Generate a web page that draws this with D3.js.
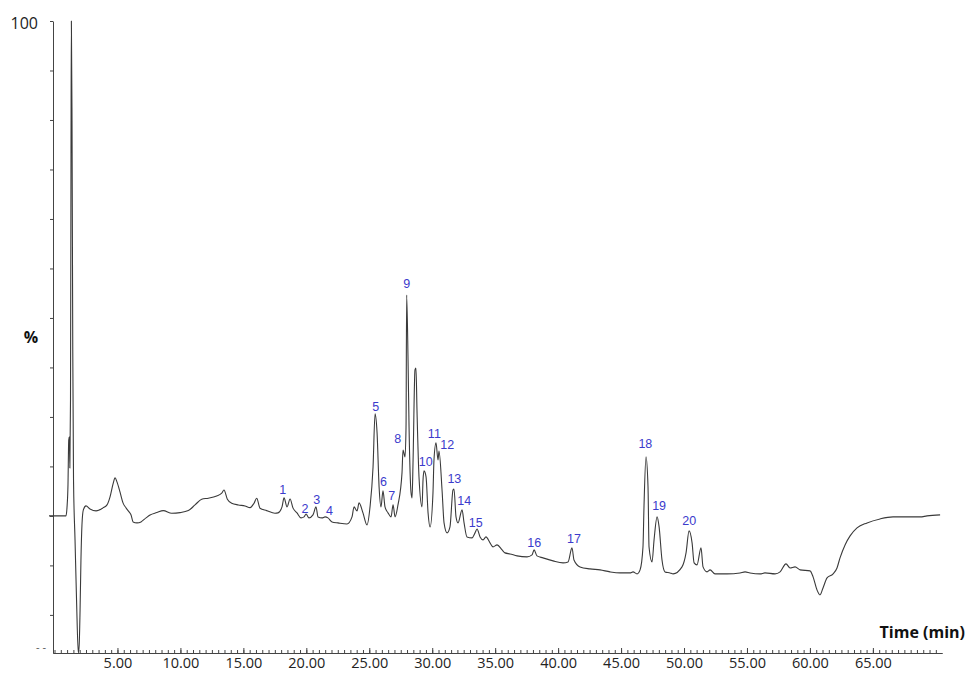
<!DOCTYPE html>
<html>
<head>
<meta charset="utf-8">
<script src="https://cdn.jsdelivr.net/npm/d3@7"></script>
<style>
body{margin:0;background:#fff;}
.trace{fill:none;stroke:#3a3a3a;stroke-width:1.1;stroke-linejoin:round;}
.axis path,.axis line{stroke:#444;}
.peak{font-family:"Liberation Sans",Arial,sans-serif;font-size:12.5px;fill:#3b3bcc;}
</style>
</head>
<body>
<svg id="chrom" width="966" height="673"></svg>
<script>
// retention time (min) and relative intensity (%)
const timeMin = [
-0.44,0.91,0.99,1.07,1.13,1.18,1.22,1.27,1.31,1.34,1.39,1.45,1.51,1.63,1.75,1.89,1.96,2.03,2.10,2.18,
2.29,2.50,2.82,3.30,3.85,4.17,4.41,4.65,4.81,4.96,5.20,5.44,5.68,5.92,6.08,6.24,6.55,6.87,7.27,7.59,
8.12,8.64,9.31,9.97,10.63,11.16,11.69,12.22,12.88,13.28,13.46,13.73,14.07,14.60,15.13,15.53,15.85,16.06,16.32,16.85,17.51,
17.75,18.07,18.23,18.47,18.71,18.94,19.26,19.58,19.82,19.98,20.21,20.53,20.77,20.93,21.25,21.49,21.72,22.04,22.52,23.23,
23.63,23.79,24.03,24.19,24.50,24.82,25.06,25.30,25.46,25.62,25.78,25.93,26.09,26.25,26.49,26.73,26.89,27.05,27.28,27.60,
27.68,27.84,27.92,27.97,28.08,28.16,28.32,28.40,28.48,28.63,28.71,28.79,28.95,29.19,29.27,29.35,29.51,29.67,29.83,30.06,
30.14,30.30,30.46,30.54,30.78,30.94,31.18,31.41,31.65,31.73,31.89,32.05,32.37,32.53,32.76,33.16,33.40,33.56,33.80,34.04,
34.27,34.59,34.83,35.15,35.55,
35.78,36.18,36.74,37.53,37.93,38.09,38.32,38.80,39.60,40.39,40.79,41.10,41.26,41.74,42.53,43.33,44.12,44.92,45.71,45.95,
46.27,46.51,46.74,46.82,46.98,47.14,47.22,47.46,47.62,47.86,48.02,48.25,48.49,48.89,49.13,49.84,50.16,50.40,50.64,50.80,
51.03,51.35,51.51,51.83,52.07,52.46,53.42,54.45,
54.85,55.24,56.04,56.43,57.23,57.63,58.10,58.42,58.82,59.22,60.01,60.25,60.56,60.80,61.04,61.36,61.84,62.15,62.39,62.79,
63.19,63.74,64.54,65.57,66.60,68.19,68.75,69.30,70.34];

const intensityPct = [
0,0,1.62,6.26,15.35,15.96,9.70,23.43,73.94,100,80.0,33.5,7.27,-4.85,-16.97,-27.68,-26.06,-18.99,-8.89,-1.82,
1.21,2.02,1.41,1.01,1.62,2.22,3.84,6.46,7.68,6.87,4.85,2.63,1.62,0.81,0.2,-1.21,-1.41,-1.21,-0.40,0.2,
0.67,1.07,0.55,0.67,1.07,2.22,3.37,3.58,4.04,4.59,5.25,3.37,2.57,2.22,2.02,1.68,2.57,3.58,1.56,1.07,0.55,
0.61,1.82,3.64,1.82,3.43,1.62,0.61,-0.40,-0.20,0.40,-0.40,0.20,1.82,-0.20,-0.40,-0.20,-0.40,-1.21,-1.41,-1.62,
-0.20,1.82,1.01,2.63,0.61,-1.82,1.82,9.90,20.61,16.77,5.86,1.82,5.05,1.82,0.61,-0.20,2.22,-0.20,2.22,8.69,
13.33,11.92,17.98,44.65,31.52,17.98,4.65,3.64,11.31,29.49,29.90,21.41,7.88,1.82,7.27,9.09,7.88,0.61,-2.22,4.65,
11.31,14.75,11.31,13.13,5.25,-1.41,-3.43,-2.22,5.25,5.45,-0.20,-1.41,1.21,-1.41,-4.24,-4.44,-3.43,-2.63,-4.24,-4.85,
-4.24,-5.45,-6.26,-5.86,-6.87,
-7.47,-7.68,-8.08,-8.28,-7.88,-6.87,-8.08,-8.48,-9.09,-9.49,-9.29,-6.46,-8.89,-10.30,-10.71,-10.91,-11.31,-11.52,-11.52,-11.31,
-11.72,-10.91,-6.26,1.82,11.92,5.86,-6.26,-9.29,-4.85,-0.20,-2.22,-8.89,-11.31,-11.52,-11.72,-10.30,-7.47,-3.03,-5.45,-9.49,
-9.90,-6.46,-10.30,-11.31,-10.91,-11.72,-11.72,-11.52,
-11.31,-11.52,-11.72,-11.52,-11.72,-11.31,-9.70,-10.51,-10.30,-10.91,-11.11,-12.32,-14.95,-15.96,-14.55,-12.53,-11.72,-10.51,-8.48,-5.86,
-4.04,-2.42,-1.41,-0.61,-0.20,-0.20,-0.20,0,0.20];

// numbered peaks: label anchor (time, %)
const peakNames = ["1","2","3","4","5","6","7","8","9","10","11","12","13","14","15","16","17","18","19","20"];
const peakLabelTime = [18.13,19.90,20.83,21.83,25.51,26.12,26.78,27.26,27.97,29.48,30.17,31.20,31.76,32.55,33.46,38.11,41.26,46.93,48.02,50.42];
const peakLabelPct = [5.39,1.56,3.37,1.07,22.08,6.93,4.04,15.70,47.01,10.97,16.57,14.48,7.47,3.03,-1.27,-5.31,-4.51,14.69,2.02,-0.95];

const xTicks = [5,10,15,20,25,30,35,40,45,50,55,60,65];
const yTicks = [-20,-10,0,10,20,30,40,50,60,70,80,90,100];

const svg = d3.select("#chrom"),
margin = {top:21,right:24,bottom:20,left:53},
width = +svg.attr("width") - margin.left - margin.right,
height = +svg.attr("height") - margin.top - margin.bottom;

const g = svg.append("g")
.attr("transform",`translate(${margin.left},${margin.top})`);

const x = d3.scaleLinear().domain([-0.12,70.49]).range([0,width]);
const y = d3.scaleLinear().domain([-27.7,100]).range([height,0]);

const data = timeMin.map((t,i)=>({t:t, v:intensityPct[i]}));

// minor ticks
g.append("g")
.attr("class","axis")
.attr("transform",`translate(0,${height})`)
.call(d3.axisBottom(x).tickValues(d3.range(0,70.5,0.5)).tickSize(-3).tickSizeOuter(0).tickFormat(""));

const xAxis = g.append("g")
.attr("class","axis")
.attr("transform",`translate(0,${height})`)
.call(d3.axisBottom(x).tickValues(xTicks).tickSize(-5).tickSizeOuter(0).tickPadding(5).tickFormat(d3.format(".2f")));

xAxis.selectAll("text")
.attr("font-family","'Open Sans',sans-serif")
.attr("font-size",14.5)
.attr("fill","#222");

const yAxis = g.append("g")
.attr("class","axis")
.call(d3.axisLeft(y).tickValues(yTicks).tickSize(3).tickSizeOuter(0).tickPadding(12).tickFormat(d=>d===100?"100":""));

yAxis.selectAll("text")
.attr("font-family","'Open Sans',sans-serif")
.attr("font-size",16)
.attr("dy","0.45em")
.attr("fill","#222");

// truncated bottom label
g.append("text")
.attr("x",-7)
.attr("y",y(-27.7)-2)
.attr("text-anchor","end")
.attr("font-family","'Open Sans',sans-serif")
.attr("font-size",11)
.attr("fill","#555")
.text("- -");

const line = d3.line()
.curve(d3.curveMonotoneX)
.x(d=>x(d.t))
.y(d=>y(d.v));

g.append("path")
.datum(data)
.attr("class","trace")
.attr("d",line);

peakNames.forEach((name,i)=>{
    g.append("text")
    .attr("class","peak")
    .attr("x",x(peakLabelTime[i]))
    .attr("y",y(peakLabelPct[i]))
    .attr("text-anchor","middle")
    .attr("dy","0.35em")
    .text(name);
});

// axis titles
svg.append("text")
.attr("x",31)
.attr("y",343)
.attr("text-anchor","middle")
.attr("font-family","'Open Sans',sans-serif")
.attr("font-weight","bold")
.attr("font-size",16)
.attr("fill","#111")
.text("%");

svg.append("text")
.attr("x",965)
.attr("y",638)
.attr("text-anchor","end")
.attr("font-family","'Open Sans',sans-serif")
.attr("font-weight","bold")
.attr("font-size",16)
.attr("fill","#111")
.text("Time (min)");
</script>
</body>
</html>
